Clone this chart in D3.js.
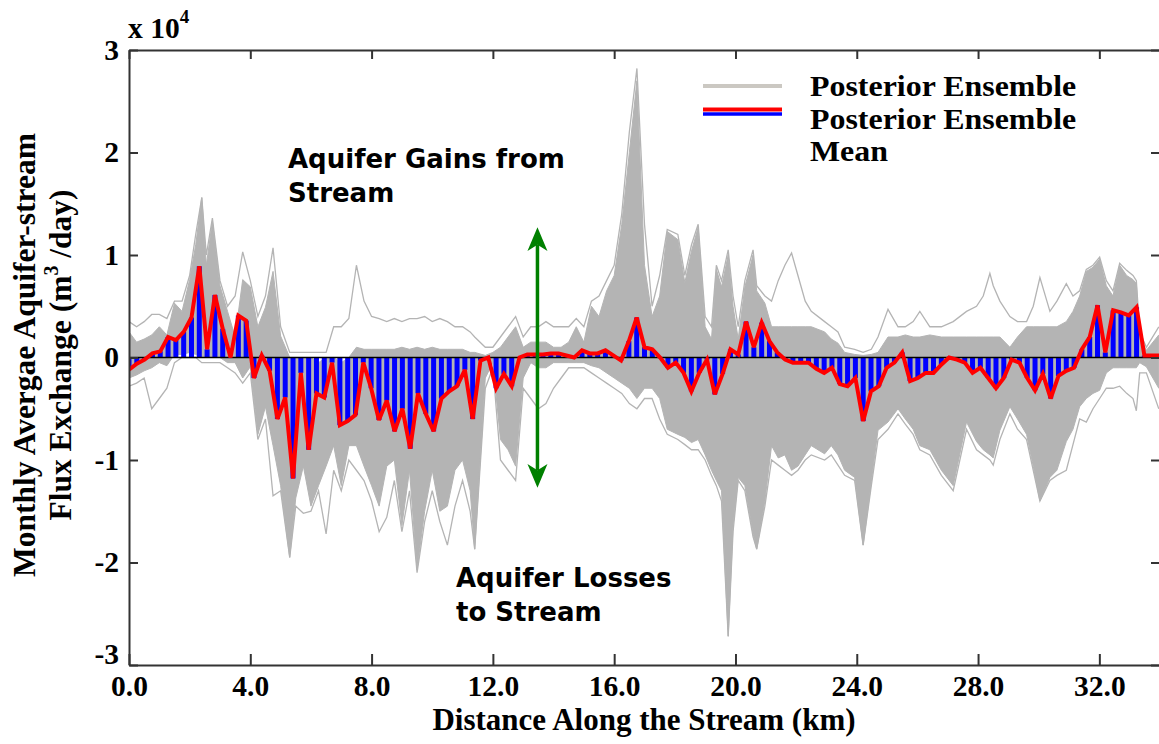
<!DOCTYPE html>
<html><head><meta charset="utf-8">
<script src="https://cdn.jsdelivr.net/npm/d3@7"></script>
<style>body{margin:0;background:#fff}svg{display:block}</style>
</head><body>
<svg id="c" width="1159" height="744"></svg>
<script>
// ---------- data (x 10^4 m3/day) ----------
// ensemble-mean flux of each stream reach (133 reaches over 34 km)
const reachCount = 133, streamLength = 34;
const meanVal = [-0.12,-0.06,-0.02,0.04,0.06,0.2,0.17,0.25,0.39,0.89,
0.08,0.61,0.28,0.0,0.41,0.36,-0.2,0.02,-0.13,-0.6,
-0.39,-1.18,-0.15,-0.9,-0.35,-0.39,-0.05,-0.66,-0.62,-0.56,
-0.05,-0.3,-0.61,-0.42,-0.72,-0.5,-0.89,-0.35,-0.55,-0.72,
-0.4,-0.33,-0.28,-0.12,-0.6,-0.03,0.0,-0.3,-0.16,-0.28,
0.0,0.03,0.03,0.03,0.04,0.04,0.02,0.0,0.07,0.04,
0.04,0.07,0.02,-0.03,0.16,0.39,0.1,0.08,0.0,-0.1,
-0.05,-0.15,-0.33,-0.15,-0.02,-0.36,-0.16,0.08,0.03,0.35,
0.1,0.34,0.16,0.05,-0.02,-0.05,-0.05,-0.05,-0.11,-0.15,
-0.1,-0.26,-0.28,-0.2,-0.62,-0.33,-0.28,-0.1,-0.05,0.05,
-0.23,-0.2,-0.15,-0.15,-0.07,0.0,-0.02,-0.05,-0.15,-0.1,
-0.2,-0.3,-0.2,-0.02,-0.05,-0.2,-0.32,-0.16,-0.4,-0.18,
-0.13,-0.1,0.08,0.2,0.51,0.05,0.46,0.44,0.41,0.49,
0.02,0.02,0.02];
const meanDist = d3.range(reachCount).map(i => i * streamLength / (reachCount - 1));

// envelope of the posterior ensemble members
const envDist = [0,.25,.5,.75,1,1.25,1.5,1.75,2,2.2,
2.4,2.55,2.75,3,3.25,3.5,3.75,4,4.25,4.5,
4.75,5,5.3,5.5,5.75,6,6.25,6.5,6.75,7,
7.25,7.5,7.75,8,8.25,8.5,8.75,9,9.25,9.5,
9.75,10,10.25,10.5,10.75,11,11.25,11.4,11.75,12,
12.25,12.5,12.75,13,13.25,13.5,13.75,14,14.25,14.5,
14.75,15,15.25,15.5,15.75,16,16.25,16.5,16.75,17,
17.25,17.5,17.75,18.1,18.33,18.55,18.77,19,19.21,19.37,
19.54,19.76,19.92,20.09,20.31,20.58,20.7,20.97,21.19,21.41,
21.63,21.85,22.06,22.3,22.5,22.94,23.16,23.38,23.6,23.93,
24.21,24.48,24.7,25.03,25.36,25.6,25.86,26.08,26.41,26.79,
27.18,27.62,27.95,28.17,28.39,28.5,28.72,29.05,29.3,29.6,
29.82,30.04,30.37,30.6,30.91,31.13,31.35,31.57,31.79,32.01,
32.23,32.45,32.67,32.9,33.11,33.22,33.33,33.55,33.96];
const coreHi = [.25,.15,.18,.22,.3,.22,.53,.45,.76,1.1,
1.56,.9,1.33,.7,.45,.2,.76,.69,.3,.49,
.84,.21,0,0,0,0,-.05,0,0,-.05,
0,.1,.08,.08,.08,.08,.08,.1,.08,.1,
.08,.1,.08,.08,.08,.08,.05,.05,.02,.05,
.1,.2,.3,.1,.15,.15,.15,.1,.1,.15,
.3,.15,.5,.4,.65,.8,1.3,2.0,2.7,0.9,
.4,.6,1.23,1.15,.73,1.04,1.27,.3,.18,.86,
.69,1.0,.5,.18,.69,1.0,.65,.53,.3,.3,
.3,.3,.3,.3,.3,.25,.18,.14,.05,.03,
.02,.03,.05,.2,.2,.22,.2,.2,.22,.2,
.2,.2,.2,.2,.2,.2,.2,.1,.2,.3,
.3,.3,.3,.3,.35,.45,.6,.84,.88,.96,
.7,.6,.9,.8,.76,.72,.2,.07,.22];
const coreLo = [-.2,-.17,-.13,-.1,-.05,-.08,.03,.03,.05,.03,
0,0,0,0,-.05,-.05,-.2,-.09,-.75,-.48,
-.86,-1.25,-1.95,-1.37,-1.06,-1.45,-1.25,-1.06,-.86,-1.25,
-.86,-.86,-1.06,-1.25,-1.45,-1.06,-1.0,-1.64,-1.1,-2.07,
-1.5,-1.1,-1.5,-1.45,-1.1,-1.0,-1.3,-1.87,-.2,-.05,
-.8,-.9,-1.06,-.2,-.05,-.1,-.1,-.05,-.05,-.05,
-.05,-.05,-.08,-.1,-.15,-.2,-.25,-.3,-.4,-.3,
-.3,-.4,-.7,-.75,-.78,-.83,-.8,-.95,-1.1,-1.2,
-1.3,-2.72,-1.64,-1.17,-1.25,-1.72,-1.87,-1.4,-.86,-.98,
-.95,-1.1,-1.06,-.95,-.86,-.94,-.86,-.95,-1.1,-1.17,
-1.83,-1.21,-.71,-.63,-.5,-.6,-.7,-.86,-.9,-1.1,
-1.25,-.63,-.82,-.9,-.95,-.98,-.71,-.48,-.6,-.75,
-1.06,-1.4,-1.17,-1.1,-.82,-.7,-.48,-.4,-.35,-.32,
-.15,-.1,-.1,-.1,-.1,-.1,-.05,-.09,-.3];
const outHi = [.35,.3,.35,.42,.42,.38,.55,.55,.8,1.2,
1.56,1.0,1.36,.75,.5,.6,1.03,.75,.4,.6,
1.07,.3,.05,.05,.05,.05,.05,.05,.3,.3,
.38,.9,.55,.4,.38,.35,.38,.35,.38,.38,
.4,.35,.38,.35,.3,.3,.25,.2,.1,.1,
.2,.3,.4,.2,.3,.3,.35,.3,.3,.3,
.38,.3,.55,.6,.75,.9,1.4,2.2,2.82,1.3,
.5,.8,1.25,1.2,.8,1.1,1.3,.4,.3,.9,
.75,1.05,.6,.3,.75,1.05,.7,.6,.55,.75,
.9,1.02,.8,.55,.45,.35,.3,.25,.1,.08,
.05,.08,.2,.47,.3,.3,.35,.45,.3,.3,
.35,.45,.5,.6,.82,.7,.55,.4,.35,.35,
.5,.78,.45,.55,.72,.6,.65,.86,.9,.98,
.75,.65,.92,.85,.8,.75,.25,.1,.3];
const outLo = [-.28,-.25,-.2,-.5,-.4,-.3,-.05,0,0,0,
-.05,-.05,-.05,-.05,-.1,-.15,-.25,-.15,-.8,-.6,
-1.35,-1.3,-1.95,-1.45,-1.52,-1.5,-1.3,-1.72,-1.1,-1.3,
-1.0,-1.1,-1.2,-1.4,-1.7,-1.56,-1.2,-1.7,-1.3,-2.1,
-1.6,-1.3,-1.6,-1.83,-1.45,-1.2,-1.5,-1.87,-.3,-.1,
-1.0,-1.1,-1.2,-.3,-.4,-.5,-.45,-.3,-.2,-.1,
-.1,-.1,-.15,-.2,-.25,-.3,-.35,-.45,-.5,-.4,
-.4,-.6,-.75,-.8,-.85,-.9,-.9,-1.0,-1.15,-1.25,
-1.4,-2.72,-1.7,-1.2,-1.3,-1.75,-1.87,-1.45,-1.0,-1.05,
-1.1,-1.15,-1.1,-1.0,-.95,-1.0,-.95,-1.05,-1.15,-1.2,
-1.83,-1.25,-.8,-.7,-.55,-.65,-.75,-.9,-.95,-1.15,
-1.3,-.7,-.9,-.95,-1.0,-1.05,-.8,-.55,-.7,-.8,
-1.1,-1.4,-1.2,-1.15,-1.1,-.85,-.6,-.63,-.5,-.4,
-.3,-.3,-.28,-.35,-.4,-.52,-.15,-.15,-.5];

const xTicks = [0,4,8,12,16,20,24,28,32];
const yTicks = [-3,-2,-1,0,1,2,3];

// ---------- layout ----------
const L = 129, R = 1160, T = 50, B = 665;
const SERIF = "'Liberation Serif','Times New Roman',serif";
const SANS = "'DejaVu Sans',Verdana,sans-serif";
const svg = d3.select("#c");
const x = d3.scaleLinear().domain([0, 34]).range([L, R]);
const y = d3.scaleLinear().domain([-3, 3]).range([B, T]);

svg.append("defs").append("clipPath").attr("id","clip")
  .append("rect").attr("x",L).attr("y",T).attr("width",R-L).attr("height",B-T);
const plot = svg.append("g").attr("clip-path","url(#clip)");

const env = envDist.map((d,i)=>({d, ch:coreHi[i], cl:coreLo[i], oh:outHi[i], ol:outLo[i]}));
const GRAY = "#b4b4b4";
plot.append("path").datum(env)
  .attr("d", d3.line().x(e=>x(e.d)).y(e=>y(e.oh)))
  .attr("fill","none").attr("stroke",GRAY).attr("stroke-width",1.3);
plot.append("path").datum(env)
  .attr("d", d3.line().x(e=>x(e.d)).y(e=>y(e.ol)))
  .attr("fill","none").attr("stroke",GRAY).attr("stroke-width",1.3);
plot.append("path").datum(env)
  .attr("d", d3.area().x(e=>x(e.d)).y0(e=>y(e.cl)).y1(e=>y(e.ch)))
  .attr("fill",GRAY).attr("stroke",GRAY).attr("stroke-width",1);

const mean = meanDist.map((d,i)=>({d, v:meanVal[i]}));
const bw = 5;
plot.selectAll("rect.bar").data(mean).join("rect").attr("class","bar")
  .attr("x", m=>x(m.d)-bw/2).attr("width",bw)
  .attr("y", m=>Math.min(y(0),y(m.v))).attr("height", m=>Math.abs(y(m.v)-y(0)))
  .attr("fill","#0000ff");
plot.append("line").attr("x1",L).attr("x2",R).attr("y1",y(0)).attr("y2",y(0))
  .attr("stroke","#000").attr("stroke-width",1.6);
plot.append("path").datum(mean)
  .attr("d", d3.line().x(m=>x(m.d)).y(m=>y(m.v)))
  .attr("fill","none").attr("stroke","#ff0000").attr("stroke-width",4)
  .attr("stroke-linejoin","miter").attr("stroke-miterlimit",3);

// green arrow
const ax = x(13.47);
const green = "#008000";
svg.append("line").attr("x1",ax).attr("x2",ax).attr("y1",y(1.1)).attr("y2",y(-1.1))
  .attr("stroke",green).attr("stroke-width",3.5);
svg.append("path").attr("d",`M${ax},${y(1.27)} L${ax-10},${y(1.04)} L${ax},${y(1.1)} L${ax+10},${y(1.04)} Z`).attr("fill",green);
svg.append("path").attr("d",`M${ax},${y(-1.27)} L${ax-10},${y(-1.04)} L${ax},${y(-1.1)} L${ax+10},${y(-1.04)} Z`).attr("fill",green);

// axes
function style(g){
  g.select(".domain").attr("stroke","#333").attr("stroke-width",2);
  g.selectAll(".tick line").attr("stroke","#333").attr("stroke-width",2);
  g.selectAll("text").attr("font-family",SERIF).attr("font-weight","bold")
   .attr("font-size",29.5).attr("fill","#000");
}
svg.append("g").attr("transform",`translate(0,${B})`)
  .call(d3.axisBottom(x).tickValues(xTicks).tickSizeInner(-11).tickSizeOuter(0)
    .tickPadding(10).tickFormat(d3.format(".1f"))).call(style);
svg.append("g").attr("transform",`translate(0,${T})`)
  .call(d3.axisTop(x).tickValues(xTicks).tickSizeInner(-9).tickSizeOuter(0).tickFormat(()=>"")).call(style);
const yl = svg.append("g").attr("transform",`translate(${L},0)`)
  .call(d3.axisLeft(y).tickValues(yTicks).tickSizeInner(-9).tickSizeOuter(0)
    .tickPadding(10).tickFormat(d=>String(d))).call(style);
yl.selectAll(".tick").filter(d=>d===-3).select("text").attr("dy","-0.05em");
svg.append("g").attr("transform",`translate(${R},0)`)
  .call(d3.axisRight(y).tickValues(yTicks).tickSizeInner(-9).tickSizeOuter(0).tickFormat(()=>"")).call(style);

const ex = svg.append("text").attr("x",128).attr("y",38)
  .attr("font-family",SERIF).attr("font-weight","bold").attr("font-size",29.5);
ex.append("tspan").text("x 10");
ex.append("tspan").attr("dy",-15).attr("font-size",19).text("4");

svg.append("text").attr("x",644).attr("y",730).attr("text-anchor","middle")
  .attr("font-family",SERIF).attr("font-weight","bold").attr("font-size",31)
  .text("Distance Along the Stream (km)");
svg.append("text").attr("transform","translate(35,355) rotate(-90)").attr("text-anchor","middle")
  .attr("font-family",SERIF).attr("font-weight","bold").attr("font-size",31.5)
  .text("Monthly Avergae Aquifer-stream");
const yt2 = svg.append("text").attr("transform","translate(71,355) rotate(-90)").attr("text-anchor","middle")
  .attr("font-family",SERIF).attr("font-weight","bold").attr("font-size",31.5);
yt2.append("tspan").text("Flux Exchange (m");
yt2.append("tspan").attr("dy",-13).attr("font-size",20).text("3");
yt2.append("tspan").attr("dy",13).text(" /day)");

const ann = [["Aquifer Gains from",288,168],["Stream",288,202],["Aquifer Losses",456,587],["to Stream",456,621]];
svg.selectAll("text.ann").data(ann).join("text").attr("class","ann")
  .attr("x",a=>a[1]).attr("y",a=>a[2]).attr("font-family",SANS).attr("font-weight","bold")
  .attr("font-size",26).attr("fill","#000").text(a=>a[0]);

svg.append("line").attr("x1",703).attr("x2",782).attr("y1",86).attr("y2",86)
  .attr("stroke","#cbc8c2").attr("stroke-width",4);
svg.append("line").attr("x1",703).attr("x2",782).attr("y1",109.5).attr("y2",109.5)
  .attr("stroke","#ff0000").attr("stroke-width",4);
svg.append("line").attr("x1",703).attr("x2",782).attr("y1",114).attr("y2",114)
  .attr("stroke","#0000ff").attr("stroke-width",3.5);
const leg = [["Posterior Ensemble",96],["Posterior Ensemble",129],["Mean",161]];
svg.selectAll("text.leg").data(leg).join("text").attr("class","leg")
  .attr("transform",l=>`translate(810,${l[1]}) scale(1.12,1)`)
  .attr("font-family",SERIF).attr("font-weight","bold")
  .attr("font-size",28.5).attr("fill","#000").text(l=>l[0]);
</script>
</body></html>
